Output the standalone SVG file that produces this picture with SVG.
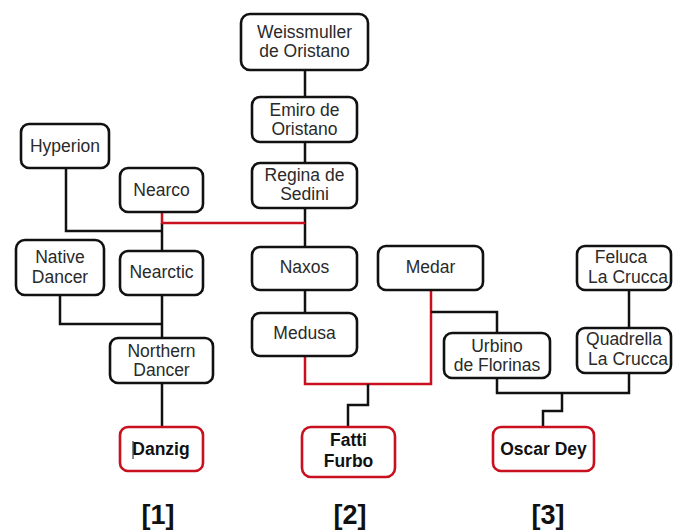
<svg xmlns="http://www.w3.org/2000/svg" width="673" height="530" viewBox="0 0 673 530">
<style>
.box{fill:#fff;stroke:#111;stroke-width:2.6}
.red{fill:#fff;stroke:#c8101e;stroke-width:2.6}
text{font-family:"Liberation Sans",Arial,sans-serif;font-size:17.5px;fill:#2a2a2a;text-anchor:middle}
.b{font-weight:bold;fill:#111}
.lbl{font-weight:bold;font-size:27px;fill:#111}
.k{fill:none;stroke:#111;stroke-width:2.5}
.r{fill:none;stroke:#c8101e;stroke-width:2.5}
</style>
<rect width="673" height="530" fill="#fff"/>
<g id="connectors">
<path class="k" d="M305 70V97M305 142V163M305 208V247M305 290V313"/>
<path class="k" d="M66 168V231H162M162 223V251M162 295V338M60 295V324H162M162 383V427"/>
<path class="r" d="M162 212V223H305"/>
<path class="r" d="M305 356V384H431V290"/>
<path class="k" d="M368 384V405H348V427"/>
<path class="k" d="M431 312H497V333"/>
<path class="k" d="M629 290V328M497 378V393H629V373M562 393V411H543V427"/>
</g>
<g id="weissmuller"><rect class="box" x="241" y="14" width="127" height="56" rx="9"/><text x="304.5" y="38">Weissmuller</text><text x="304.5" y="57">de Oristano</text></g>
<g id="emiro"><rect class="box" x="252" y="97" width="105" height="45" rx="8"/><text x="304.5" y="116">Emiro de</text><text x="304.5" y="135">Oristano</text></g>
<g id="regina"><rect class="box" x="252" y="163" width="105" height="45" rx="8"/><text x="304.5" y="181">Regina de</text><text x="304.5" y="200">Sedini</text></g>
<g id="hyperion"><rect class="box" x="21" y="124" width="88" height="44" rx="8"/><text x="65" y="152">Hyperion</text></g>
<g id="nearco"><rect class="box" x="120" y="168" width="83" height="44" rx="8"/><text x="161.5" y="196">Nearco</text></g>
<g id="native-dancer"><rect class="box" x="16" y="240" width="88" height="55" rx="9"/><text x="60" y="263">Native</text><text x="60" y="283">Dancer</text></g>
<g id="nearctic"><rect class="box" x="120" y="251" width="83" height="44" rx="8"/><text x="161.5" y="278">Nearctic</text></g>
<g id="northern-dancer"><rect class="box" x="110" y="338" width="103" height="45" rx="8"/><text x="161.5" y="357">Northern</text><text x="161.5" y="376">Dancer</text></g>
<g id="danzig"><rect class="red" x="120" y="427" width="83" height="44" rx="8"/><line x1="133" y1="441" x2="133" y2="459" stroke="#111" stroke-width="1"/><text class="b" x="161" y="455">Danzig</text></g>
<g id="naxos"><rect class="box" x="252" y="247" width="105" height="43" rx="8"/><text x="304.5" y="273">Naxos</text></g>
<g id="medusa"><rect class="box" x="252" y="313" width="105" height="43" rx="8"/><text x="304.5" y="339">Medusa</text></g>
<g id="medar"><rect class="box" x="378" y="246" width="105" height="44" rx="8"/><text x="430.5" y="273">Medar</text></g>
<g id="fatti-furbo"><rect class="red" x="302" y="427" width="93" height="50" rx="9"/><text class="b" x="348.5" y="446">Fatti</text><text class="b" x="348.5" y="467">Furbo</text></g>
<g id="urbino"><rect class="box" x="444" y="333" width="106" height="45" rx="8"/><text x="497" y="352">Urbino</text><text x="497" y="371">de Florinas</text></g>
<g id="feluca"><rect class="box" x="577" y="246" width="94" height="44" rx="8"/><text x="621" y="263">Feluca</text><text x="628" y="283">La Crucca</text></g>
<g id="quadrella"><rect class="box" x="577" y="328" width="94" height="45" rx="8"/><text x="624" y="345">Quadrella</text><text x="628" y="365">La Crucca</text></g>
<g id="oscar-dey"><rect class="red" x="493" y="427" width="101" height="44" rx="8"/><text class="b" x="543.5" y="455">Oscar Dey</text></g>
<text class="lbl" x="158" y="524">[1]</text>
<text class="lbl" x="350" y="524">[2]</text>
<text class="lbl" x="548" y="524">[3]</text>
</svg>
